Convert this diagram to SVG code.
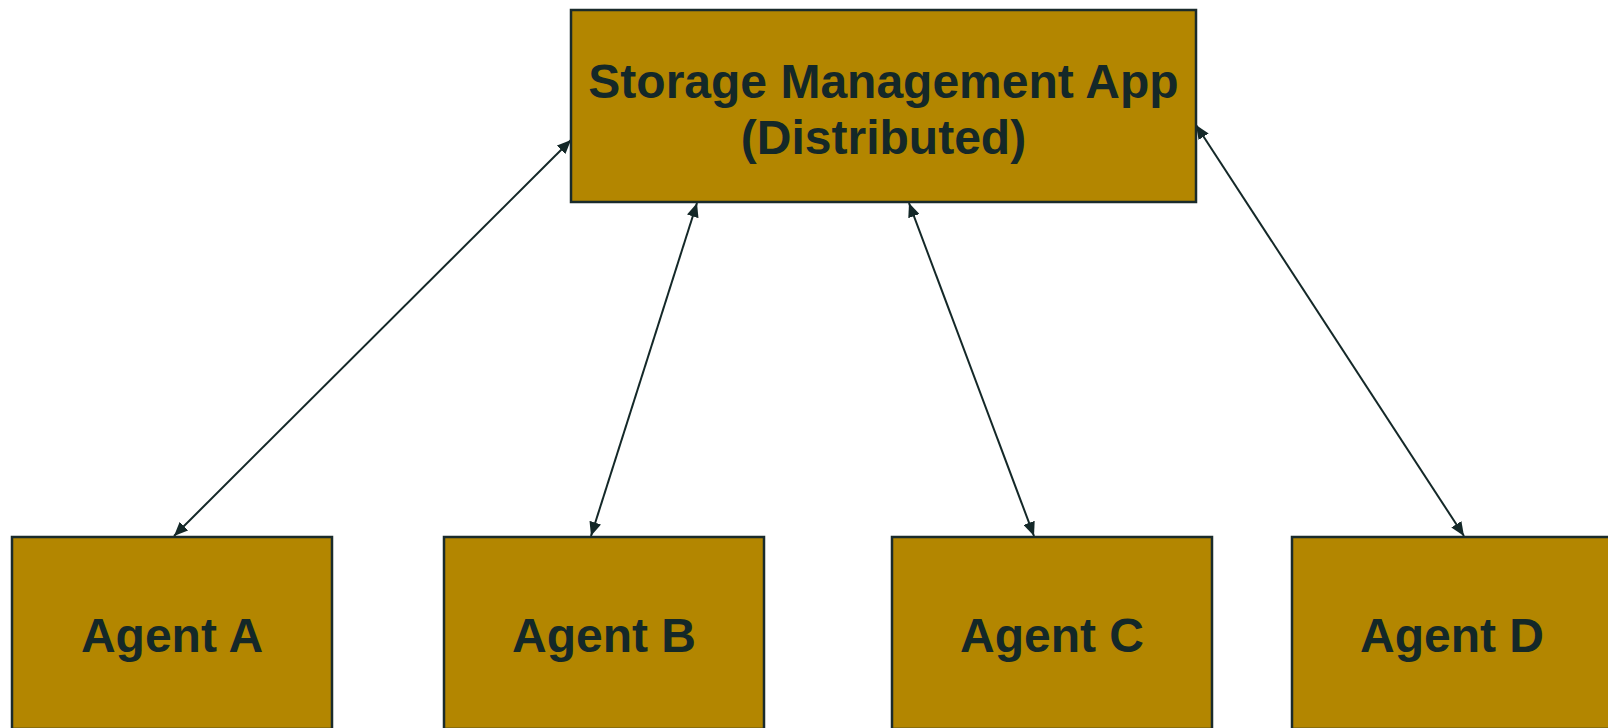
<svg xmlns="http://www.w3.org/2000/svg" width="1608" height="728" viewBox="0 0 1608 728">
<style>
.node rect{fill:#b38600;stroke:#1a2b2b;stroke-width:2.5}
.node text{font-family:"Liberation Sans",Arial,sans-serif;font-weight:bold;font-size:48px;fill:#142828;text-anchor:middle}
.edge{stroke:#142828;stroke-width:2;fill:none;marker-start:url(#ah);marker-end:url(#ah)}
</style>
<defs>
<marker id="ah" viewBox="0 0 14 12" refX="14" refY="6" markerWidth="14" markerHeight="12" markerUnits="userSpaceOnUse" orient="auto-start-reverse">
<path d="M0,0 L14,6 L0,12 z" fill="#142828"/>
</marker>
</defs>
<rect width="1608" height="728" fill="#ffffff"/>
<g id="connectors">
<line class="edge" x1="571" y1="140" x2="174" y2="536"/>
<line class="edge" x1="697" y1="203" x2="591" y2="536"/>
<line class="edge" x1="909" y1="203" x2="1034" y2="536"/>
<line class="edge" x1="1196" y1="125" x2="1464" y2="536"/>
</g>
<g id="storage-app" class="node">
<rect x="571" y="10" width="625" height="192"/>
<text x="883.5" y="98">Storage Management App</text>
<text x="883.5" y="154">(Distributed)</text>
</g>
<g id="agent-a" class="node">
<rect x="12" y="537" width="320" height="192"/>
<text x="172" y="652">Agent A</text>
</g>
<g id="agent-b" class="node">
<rect x="444" y="537" width="320" height="192"/>
<text x="604" y="652">Agent B</text>
</g>
<g id="agent-c" class="node">
<rect x="892" y="537" width="320" height="192"/>
<text x="1052" y="652">Agent C</text>
</g>
<g id="agent-d" class="node">
<rect x="1292" y="537" width="320" height="192"/>
<text x="1452" y="652">Agent D</text>
</g>
</svg>
